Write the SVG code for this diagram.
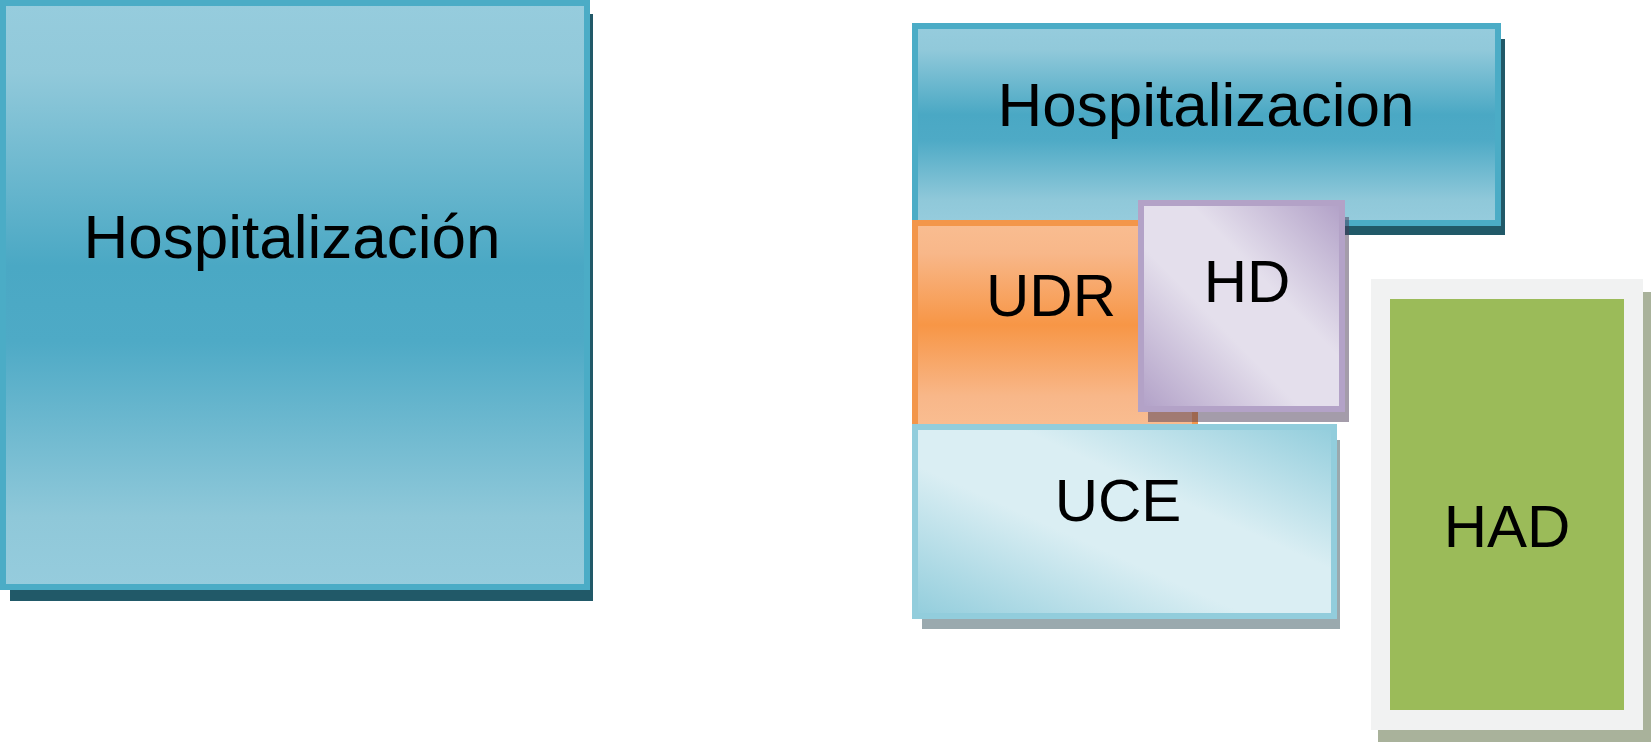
<svg xmlns="http://www.w3.org/2000/svg" width="1651" height="742" viewBox="0 0 1651 742">
  <defs>
    <linearGradient id="gHosp" x1="0" y1="0" x2="0" y2="1">
      <stop offset="0" stop-color="#96ccdd"/>
      <stop offset="0.12" stop-color="#91c9da"/>
      <stop offset="0.45" stop-color="#4aa8c4"/>
      <stop offset="0.58" stop-color="#4eaac6"/>
      <stop offset="0.88" stop-color="#8fc8d9"/>
      <stop offset="1" stop-color="#96ccdd"/>
    </linearGradient>
    <linearGradient id="gUDR" x1="0" y1="0" x2="0" y2="1">
      <stop offset="0" stop-color="#f9bd91"/>
      <stop offset="0.15" stop-color="#f8b789"/>
      <stop offset="0.5" stop-color="#f79646"/>
      <stop offset="0.85" stop-color="#f8b789"/>
      <stop offset="1" stop-color="#f9bd91"/>
    </linearGradient>
    <linearGradient id="gHD" x1="0" y1="1" x2="1" y2="0">
      <stop offset="0" stop-color="#b1a0c7"/>
      <stop offset="0.4" stop-color="#e4dfec"/>
      <stop offset="0.62" stop-color="#e4dfec"/>
      <stop offset="1" stop-color="#b1a0c7"/>
    </linearGradient>
    <linearGradient id="gUCE" x1="0" y1="1" x2="1" y2="0">
      <stop offset="0" stop-color="#92cddc"/>
      <stop offset="0.4" stop-color="#daeef3"/>
      <stop offset="0.62" stop-color="#daeef3"/>
      <stop offset="1" stop-color="#92cddc"/>
    </linearGradient>
  </defs>
  <style>
    .lbl { font-family: "Liberation Sans", Arial, sans-serif; fill: #000; text-anchor: middle; }
    .big { font-size: 62px; }
    .mid { font-size: 60px; }
    .shHosp { fill: #215968; }
    .hosp { fill: url(#gHosp); stroke: #4bacc6; stroke-width: 6; }
  </style>

  <g id="hosp-left">
    <rect class="shHosp" x="10" y="14" width="583" height="587"/>
    <rect class="hosp" x="3" y="3" width="584" height="584"/>
    <text class="lbl big" x="292" y="258">Hospitalización</text>
  </g>

  <g id="hosp-right">
    <rect class="shHosp" x="922" y="39" width="583" height="196"/>
    <rect class="hosp" x="915" y="26" width="583" height="197"/>
    <text class="lbl big" x="1206" y="126">Hospitalizacion</text>
  </g>

  <g id="udr">
    <rect x="915" y="223" width="280" height="204" fill="url(#gUDR)" stroke="#f3964a" stroke-width="6"/>
    <text class="lbl mid" x="1051" y="316">UDR</text>
  </g>

  <g id="hd">
    <rect x="1148" y="217" width="201" height="205" fill="#4a3a55" fill-opacity="0.5"/>
    <rect x="1141" y="203" width="201" height="206" fill="url(#gHD)" stroke="#b3a2c7" stroke-width="6"/>
    <text class="lbl mid" x="1247" y="302">HD</text>
  </g>

  <g id="uce">
    <rect x="922" y="440" width="418" height="189" fill="#9aa9ae"/>
    <rect x="915" y="427" width="419" height="189" fill="url(#gUCE)" stroke="#92cddc" stroke-width="6"/>
    <text class="lbl mid" x="1118" y="521">UCE</text>
  </g>

  <g id="had">
    <rect x="1378" y="292" width="274" height="450" fill="#a9b29b"/>
    <rect x="1371" y="279" width="272" height="451" fill="#f1f2f2"/>
    <rect x="1390" y="299" width="234" height="411" fill="#9bbb59"/>
    <text class="lbl mid" x="1507" y="547">HAD</text>
  </g>

  <g id="connectors"/>
</svg>
